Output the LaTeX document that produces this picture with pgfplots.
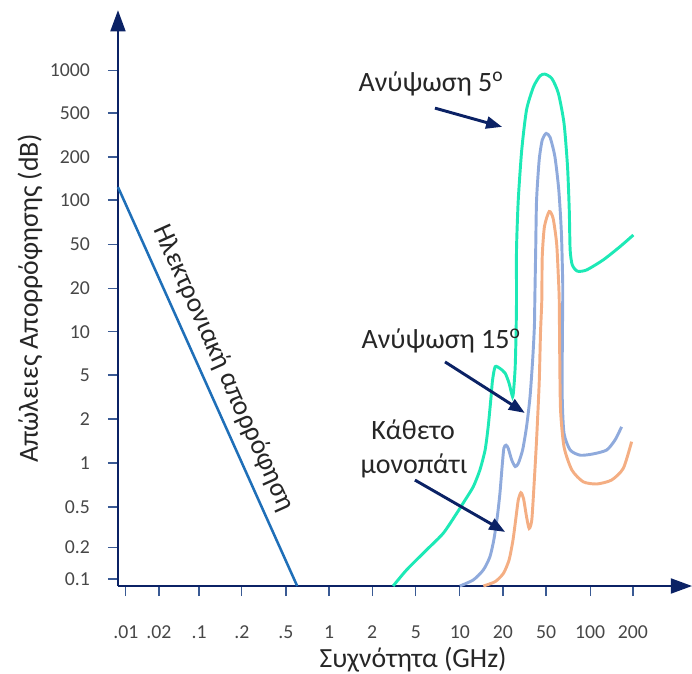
\documentclass[border=0pt]{standalone}
\usepackage{pgfplots}
\pgfplotsset{compat=1.18}
\usepackage{fontspec}
\setmainfont{Carlito}
\usetikzlibrary{arrows.meta}

\definecolor{navy}{HTML}{0B2265}
\definecolor{tickc}{HTML}{3A5A94}
\definecolor{elblue}{HTML}{1F6FB8}
\definecolor{teal5}{HTML}{1DE9B6}
\definecolor{peri15}{HTML}{8FAADC}
\definecolor{orgv}{HTML}{F4AE83}
\definecolor{txt}{HTML}{262626}

\begin{document}
\begin{tikzpicture}
\begin{axis}[
  x=32.7pt, y=32.7pt,
  xmin=0, xmax=13.17, ymin=0, ymax=13.21,
  axis lines=left,
  axis line style={navy, line width=2.2pt, -{Triangle[length=16pt,width=11pt]}},
  tick align=outside,
  major tick length=7.5pt,
  tick style={tickc, line width=1pt},
  xtick={0.18,0.94,1.86,2.84,3.85,4.84,5.83,6.83,7.84,8.83,9.82,10.83,11.81},
  xticklabels={.01,.02,.1,.2,.5,1,2,5,10,20,50,100,200},
  ytick={0.16,0.89,1.81,2.82,3.83,4.84,5.83,6.83,7.84,8.85,9.84,10.85,11.83},
  yticklabels={0.1,0.2,0.5,1,2,5,10,20,50,100,200,500,1000},
  ticklabel style={font=\fontsize{14.8}{17}\selectfont, text=txt!85},
  xticklabel style={yshift=-18.5pt},
  yticklabel style={xshift=-10pt},
  /pgf/number format/assume math mode=true,
  xlabel={Συχνότητα (GHz)},
  ylabel={Απώλειες Απορρόφησης (dB)},
  label style={font=\fontsize{20.8}{24}\selectfont, text=txt},
  xlabel style={at={(axis description cs:0.514,-0.1287)}, anchor=center},
  ylabel style={at={(axis description cs:-0.1534,0.4996)}, anchor=center},
  clip=false,
]
% electronic absorption
\addplot[elblue, line width=1.9pt] coordinates {(0,9.15) (4.11,0)};
% elevation 5 deg
\addplot[teal5, line width=2.2pt, smooth, tension=0.4] coordinates {
(6.31,0) (6.62,0.37) (7.08,0.83) (7.46,1.21) (7.77,1.67) (7.96,1.97) (8.15,2.28)
(8.30,2.66) (8.42,3.12) (8.49,3.65) (8.55,4.27) (8.59,4.72) (8.65,5.03) (8.76,4.99)
(8.88,4.88) (8.97,4.65) (9.05,4.34) (9.08,4.57) (9.11,5.03) (9.13,5.80) (9.14,6.56)
(9.14,7.71) (9.18,8.85) (9.26,10.0) (9.37,10.92) (9.53,11.45) (9.68,11.70) (9.79,11.74)
(9.95,11.64) (10.10,11.30) (10.23,10.61) (10.31,9.62) (10.35,8.62) (10.37,7.71)
(10.42,7.36) (10.54,7.22) (10.75,7.25) (11.13,7.48) (11.51,7.78) (11.82,8.05)};
% elevation 15 deg
\addplot[peri15, line width=2.2pt, smooth, tension=0.4] coordinates {
(7.84,0) (8.15,0.14) (8.38,0.37) (8.53,0.67) (8.62,1.06) (8.70,1.59) (8.76,2.13)
(8.81,2.74) (8.85,3.16) (8.90,3.23) (8.95,3.16) (9.03,2.89) (9.11,2.74) (9.18,2.81)
(9.28,3.12) (9.37,3.65) (9.45,4.34) (9.51,5.18) (9.55,5.95) (9.56,6.56) (9.58,7.71)
(9.60,8.85) (9.66,9.77) (9.73,10.23) (9.82,10.38) (9.91,10.29) (10.02,9.85) (10.11,9.08)
(10.17,8.09) (10.20,6.94) (10.20,6.56) (10.19,5.41) (10.19,4.27) (10.23,3.50) (10.37,3.12)
(10.60,3.00) (10.90,3.03) (11.21,3.12) (11.40,3.35) (11.55,3.65)};
% vertical path
\addplot[orgv, line width=2.2pt, smooth, tension=0.4] coordinates {
(8.38,0) (8.65,0.10) (8.84,0.29) (8.97,0.60) (9.06,1.06) (9.13,1.59) (9.18,1.97)
(9.24,2.14) (9.30,2.01) (9.37,1.59) (9.43,1.32) (9.49,1.51) (9.54,2.28) (9.60,3.35)
(9.66,4.65) (9.69,5.80) (9.72,6.56) (9.73,7.55) (9.78,8.24) (9.89,8.59) (9.98,8.43)
(10.06,7.86) (10.10,7.09) (10.12,6.56) (10.13,5.41) (10.15,4.04) (10.23,3.19) (10.41,2.66)
(10.67,2.39) (10.98,2.34) (11.32,2.43) (11.59,2.70) (11.78,3.31)};
% annotations
\draw[navy, line width=2.2pt, -{Triangle[length=12pt,width=9pt]}] (axis cs:7.27,10.96) -- (axis cs:8.81,10.53);
\draw[navy, line width=2.2pt, -{Triangle[length=12pt,width=9pt]}] (axis cs:7.50,5.14) -- (axis cs:9.33,3.97);
\draw[navy, line width=2.2pt, -{Triangle[length=12pt,width=9pt]}] (axis cs:6.81,2.43) -- (axis cs:8.88,1.24);
\node[font=\fontsize{21}{24}\selectfont, text=txt, anchor=base] at (axis cs:7.18,11.35) {Ανύψωση 5\textsuperscript{o}};
\node[font=\fontsize{21}{24}\selectfont, text=txt, anchor=base] at (axis cs:7.41,5.44) {Ανύψωση 15\textsuperscript{o}};
\node[font=\fontsize{21}{24}\selectfont, text=txt, anchor=base] at (axis cs:6.77,3.35) {Κάθετο};
\node[font=\fontsize{21}{24}\selectfont, text=txt, anchor=base] at (axis cs:6.79,2.59) {μονοπάτι};
\node[font=\fontsize{20.5}{24}\selectfont, text=txt, rotate=-65.8] at (axis cs:2.42,5.0) {Ηλεκτρονιακή απορρόφηση};
\coordinate (bl) at (axis cs:-2.706,-2.018);
\coordinate (tr) at (axis cs:13.165,13.44);
\end{axis}
\pgfresetboundingbox
\path[use as bounding box] (bl) rectangle (tr);
\end{tikzpicture}
\end{document}
